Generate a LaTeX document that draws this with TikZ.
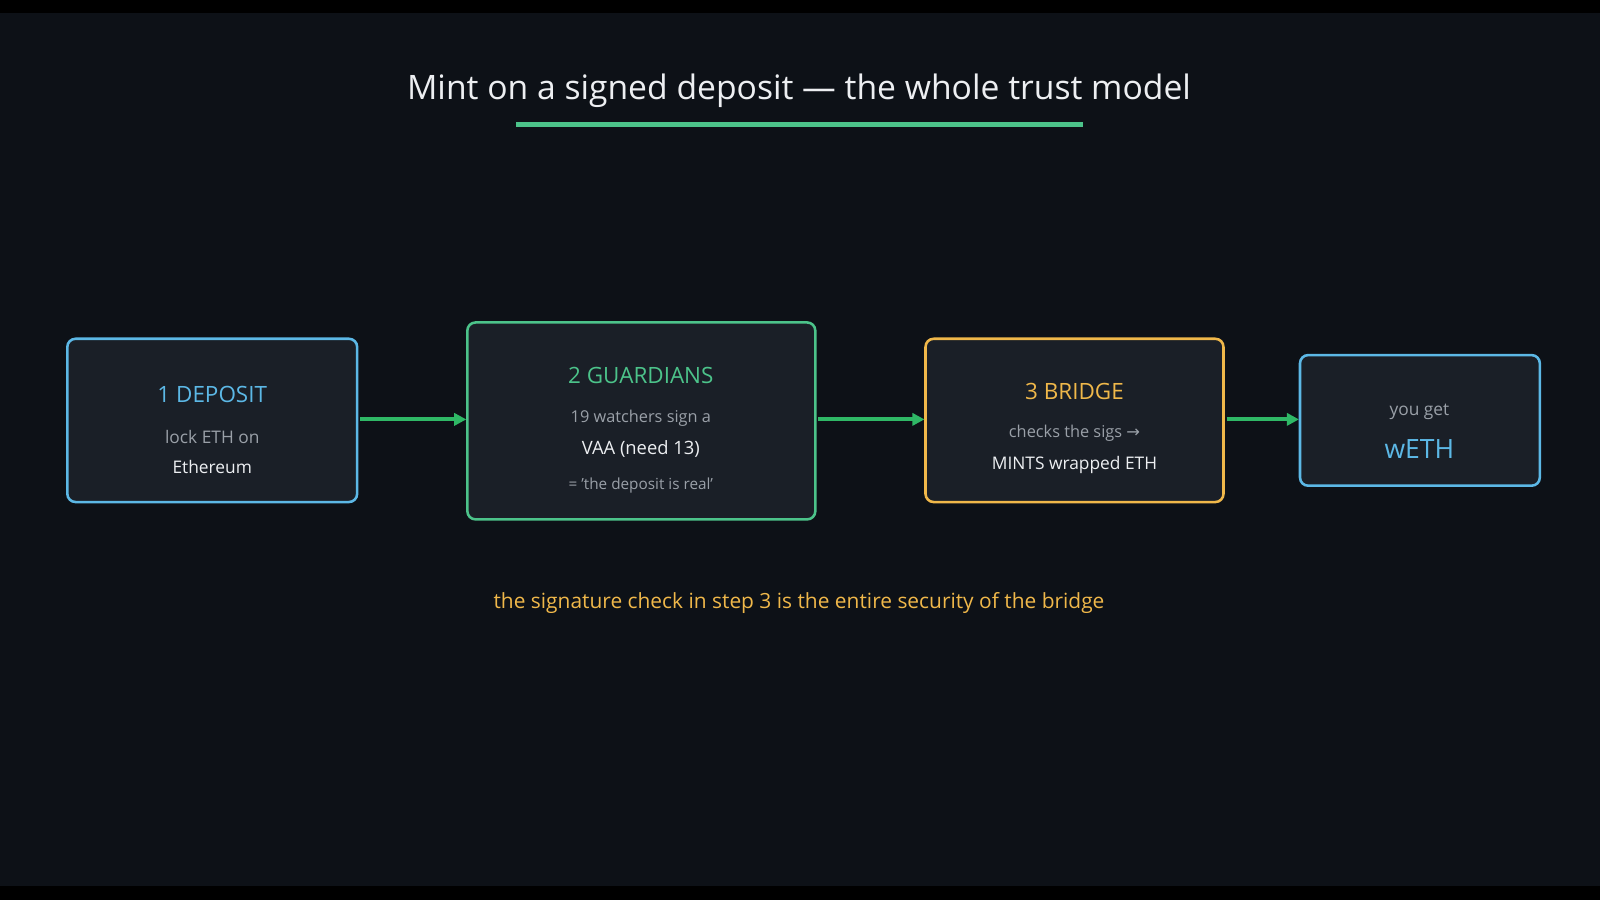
\documentclass[tikz,border=0pt]{standalone}
\usepackage{fontspec}
\setmainfont{Open Sans}
\newfontfamily\djv{DejaVu Sans}
\usetikzlibrary{arrows.meta}
\definecolor{bg}{HTML}{0D1117}
\definecolor{boxbg}{HTML}{1A1F27}
\definecolor{cblue}{HTML}{5CB8E6}
\definecolor{cgreen}{HTML}{4CC38A}
\definecolor{corange}{HTML}{F0B84A}
\definecolor{arrg}{HTML}{2FB866}
\definecolor{grey}{HTML}{9AA0A8}
\definecolor{wht}{HTML}{EDEFF2}
\begin{document}
\begin{tikzpicture}[x=1pt,y=-1pt,
  box/.style={draw=#1,line width=2.5pt,rounded corners=8pt,fill=boxbg},
  arr/.style={draw=arrg,line width=4pt,-{Triangle[length=12pt,width=12pt]}},
  fs/.style={font=\fontsize{#1}{#1}\selectfont}]
\useasboundingbox (0,0) rectangle (1568,882);
\fill[black] (0,0) rectangle (1568,882);
\fill[bg] (0,13) rectangle (1568,868);
\node[fs=33,text=wht] (title) at (783,89) {Mint on a signed deposit — the whole trust model};
\draw[cgreen,line width=4pt] (506,122) -- (1061,122);
\path[box=cblue] (66,332) rectangle (350,492);
\node[fs=22,text=cblue] (t1) at (208,387) {1 DEPOSIT};
\node[fs=17,text=grey] (s1a) at (208,428) {lock ETH on};
\node[fs=17,text=wht] (s1b) at (208,458) {Ethereum};
\path[box=cgreen] (458,316) rectangle (799,509);
\node[fs=22,text=cgreen] (t2) at (628,368) {2 GUARDIANS};
\node[fs=16,text=grey] (s2a) at (628,410) {19 watchers sign a};
\node[fs=18,text=wht] (s2b) at (628,440) {VAA (need 13)};
\node[fs=15,text=grey] (s2c) at (628,476) {= \char"0027 the deposit is real\char"0027};
\path[box=corange] (907,332) rectangle (1199,492);
\node[fs=22,text=corange] (t3) at (1053,384) {3 BRIDGE};
\node[fs=16,text=grey] (s3a) at (1053,425) {checks the sigs {\djv →}};
\node[fs=17,text=wht] (s3b) at (1053,456) {MINTS wrapped ETH};
\path[box=cblue] (1274,348) rectangle (1509,476);
\node[fs=17,text=grey] (s4a) at (1391,404) {you get};
\node[fs=26,text=cblue] (t4) at (1391,440) {wETH};
\coordinate (a1s) at (353,411); \coordinate (a1e) at (457,411);
\coordinate (a2s) at (802,411); \coordinate (a2e) at (906,411);
\coordinate (a3s) at (1202,411); \coordinate (a3e) at (1273,411);
\draw[arr] (a1s) -- (a1e);
\draw[arr] (a2s) -- (a2e);
\draw[arr] (a3s) -- (a3e);
\node[fs=20.5,text=corange] (foot) at (783,591) {the signature check in step 3 is the entire security of the bridge};
\end{tikzpicture}
\end{document}
